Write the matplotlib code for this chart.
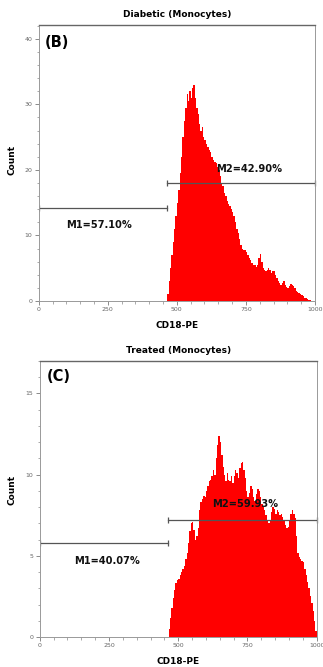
import numpy as np
import matplotlib
matplotlib.use("Agg")
import matplotlib.pyplot as plt
from matplotlib.ticker import MultipleLocator

plt.rcParams['font.family'] = ['DejaVu Sans']

# ---------------- data ----------------
bin_width = 5
top_start = 460
top_counts = [0, 1, 3, 5, 7, 9, 11, 13, 15, 17,
              19.5, 22, 25, 27.5, 29.5, 31.5, 30.5, 32, 31, 32.5,
              33, 31, 29.5, 28.5, 27, 26, 26.5, 25, 24.5, 24,
              23.5, 23, 22.8, 22, 21.5, 21.2, 21, 20.5, 20, 19,
              18, 17.5, 16.5, 16, 15.3, 14.8, 14.5, 14, 13.5, 13,
              12, 11, 10.3, 9.5, 8.5, 8, 7.8, 7.8, 7.5, 7,
              6.5, 6.2, 5.8, 5.5, 5.5, 5.2, 5.5, 6.5, 7.2, 6,
              5, 4.8, 4.5, 4.8, 5.0, 4.8, 4.2, 4.5, 4.6, 4.0,
              3.5, 3.0, 2.8, 2.5, 2.8, 3.0, 2.5, 2.2, 2.0, 2.3,
              2.6, 2.4, 2.3, 2.0, 1.6, 1.3, 1.2, 1.0, 0.9, 0.7,
              0.5, 0.4, 0.3, 0.2, 0.1, 0.05, 0.0]

bot_start = 465
bot_counts = [0.5, 1.2, 1.8, 2.4, 2.9, 3.3, 3.5, 3.6, 3.8, 4.0,
              4.2, 4.4, 4.8, 5.2, 5.8, 6.5, 7.0, 7.1, 6.6, 6.0,
              6.2, 6.7, 7.8, 8.3, 8.5, 8.7, 8.6, 9.0, 9.3, 9.6,
              9.7, 9.9, 10.3, 10.0, 11.0, 11.8, 12.4, 12.0, 11.2, 10.5,
              10.0, 9.6, 10.1, 9.7, 9.6, 9.9, 9.5, 9.9, 10.3, 10.1,
              9.8, 10.4, 10.7, 10.8, 10.3, 9.8, 9.0, 8.6, 8.9, 9.3,
              9.1, 8.6, 8.4, 8.8, 9.1, 9.0, 8.6, 8.2, 8.0, 7.8,
              7.5, 7.2, 7.0, 7.2, 7.7, 8.0, 7.9, 7.6, 7.8, 7.7,
              7.5, 7.6, 7.4, 7.2, 6.9, 6.7, 6.8, 7.2, 7.6, 7.8,
              7.6, 7.3, 6.2, 5.2, 4.9, 4.8, 4.7, 4.6, 4.2, 3.8,
              3.4, 3.0, 2.5, 2.1, 1.6, 1.0, 0.4]

titles = ["Diabetic (Monocytes)", "Treated (Monocytes)"]
panel_labels = ["(B)", "(C)"]
xlabel = "CD18-PE"
ylabel = "Count"
gate_split = [464, 464]
m1_level = [14.2, 5.76]
m2_level = [18.0, 7.23]
m1_text = ["M1=57.10%", "M1=40.07%"]
m2_text = ["M2=42.90%", "M2=59.93%"]
m1_pos = [(218, 11.6), (242, 4.67)]
m2_pos = [(762, 20.1), (741, 8.2)]
ymax = [42.1, 17.0]
ymajor = [10, 5]
yminor = [2, 1]
xticks = [0, 250, 500, 750, 1000]

# ---------------- figure ----------------
W, H = 323, 667
fig = plt.figure(figsize=(W / 100, H / 100), dpi=100)
ax_rects = [
    [38.7 / W, 1 - 301 / H, (315 - 38.7) / W, (301 - 25) / H],
    [39.7 / W, 1 - 637 / H, (316.7 - 39.7) / W, (637 - 361) / H],
]
starts = [top_start, bot_start]
series = [top_counts, bot_counts]
label_pos = [(56.7, 42.7), (58.3, 376.7)]
ylabel_y = [160, 490]

line_col = '#555555'
for i in range(2):
    ax = fig.add_axes(ax_rects[i])
    counts = np.array(series[i], dtype=float)
    edges = starts[i] + bin_width * np.arange(len(counts) + 1)
    ax.stairs(counts, edges, fill=True, color='#ff0000', linewidth=0)
    ax.set_xlim(0, 1000)
    ax.set_ylim(0, ymax[i])
    ax.set_xticks(xticks)
    ax.xaxis.set_minor_locator(MultipleLocator(50))
    ax.yaxis.set_major_locator(MultipleLocator(ymajor[i]))
    ax.yaxis.set_minor_locator(MultipleLocator(yminor[i]))
    ax.tick_params(which='major', length=3, width=0.6, color='#777777',
                   labelsize=4.5, labelcolor='#666666', pad=1.5)
    ax.tick_params(which='minor', length=1.8, width=0.5, color='#888888')
    for s in ['left', 'bottom', 'right']:
        ax.spines[s].set_color('#999999')
        ax.spines[s].set_linewidth(0.7)
    ax.spines['top'].set_color('#666666')
    ax.spines['top'].set_linewidth(1.0)

    # gate markers
    g = gate_split[i]
    ax.plot([0, g], [m1_level[i]] * 2, color=line_col, lw=0.9)
    ax.plot([0, g], [m1_level[i]] * 2, color=line_col, lw=0, marker='|', ms=4, mew=0.9)
    ax.plot([g, 1000], [m2_level[i]] * 2, color=line_col, lw=0.9)
    ax.plot([g, 1000], [m2_level[i]] * 2, color=line_col, lw=0, marker='|', ms=4, mew=0.9,
            clip_on=False)
    ax.text(m1_pos[i][0], m1_pos[i][1], m1_text[i], ha='center', va='center',
            fontsize=7.1, fontweight='bold', color='#111111')
    ax.text(m2_pos[i][0], m2_pos[i][1], m2_text[i], ha='center', va='center',
            fontsize=7.1, fontweight='bold', color='#111111')

    ax.set_title(titles[i], fontsize=6.5, fontweight='bold', pad=6)
    ax.set_xlabel(xlabel, fontsize=6.5, fontweight='bold', labelpad=6)

    fig.text(label_pos[i][0] / W, 1 - label_pos[i][1] / H, panel_labels[i],
             fontsize=10.5, fontweight='bold', ha='center', va='center')
    fig.text(12 / W, 1 - ylabel_y[i] / H, ylabel, rotation=90, fontsize=6.5,
             fontweight='bold', ha='center', va='center')

fig.savefig("out.png", dpi=100)
